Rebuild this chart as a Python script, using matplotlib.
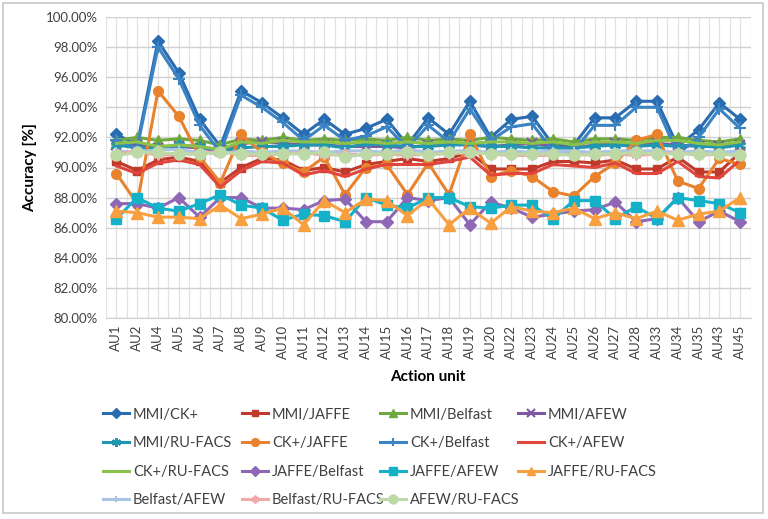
import matplotlib
matplotlib.use("Agg")
import matplotlib.pyplot as plt
from matplotlib.ticker import FuncFormatter, MultipleLocator
from matplotlib.patches import Rectangle

plt.rcParams['font.family'] = ['Lato', 'DejaVu Sans']

categories = ["AU1", "AU2", "AU4", "AU5", "AU6", "AU7", "AU8", "AU9", "AU10", "AU11",
              "AU12", "AU13", "AU14", "AU15", "AU16", "AU17", "AU18", "AU19", "AU20", "AU22",
              "AU23", "AU24", "AU25", "AU26", "AU27", "AU28", "AU33", "AU34", "AU35", "AU43", "AU45"]

mmi_ck = [92.2, 91.5, 98.4, 96.3, 93.2, 91.4, 95.1, 94.3, 93.3, 92.2, 93.2, 92.2, 92.6, 93.2, 91.5, 93.3,
          92.2, 94.4, 92.0, 93.2, 93.4, 91.5, 91.5, 93.3, 93.3, 94.4, 94.4, 91.4, 92.5, 94.3, 93.2]
mmi_jaffe = [90.4, 89.8, 90.5, 90.7, 90.4, 89.0, 90.0, 90.6, 90.5, 89.8, 90.0, 89.7, 90.2, 90.4, 90.6, 90.4,
             90.6, 91.0, 89.9, 89.9, 89.9, 90.4, 90.4, 90.3, 90.5, 89.9, 89.9, 90.7, 89.7, 89.7, 91.0]
mmi_belfast = [91.8, 92.0, 91.8, 91.9, 91.8, 91.5, 91.9, 91.8, 92.0, 91.8, 91.9, 91.8, 91.9, 91.8, 92.0, 91.8,
               91.9, 91.8, 92.0, 91.9, 91.8, 91.9, 91.7, 91.9, 91.9, 91.8, 92.0, 92.0, 91.8, 91.7, 91.9]
mmi_afew = [91.5, 91.5, 91.3, 91.4, 91.3, 91.1, 91.6, 91.7, 91.6, 91.5, 91.5, 91.4, 91.4, 91.4, 91.3, 91.5,
            91.6, 91.5, 91.4, 91.5, 91.6, 91.4, 91.3, 91.5, 91.6, 91.5, 91.6, 91.5, 91.4, 91.4, 91.5]
mmi_rufacs = [91.5, 91.3, 91.3, 91.5, 91.4, 91.1, 91.3, 91.4, 91.4, 91.5, 91.5, 91.3, 91.6, 91.5, 91.4, 91.4,
              91.5, 91.5, 91.4, 91.4, 91.3, 91.3, 91.3, 91.4, 91.5, 91.4, 91.5, 91.4, 91.5, 91.3, 91.5]
ck_jaffe = [89.6, 87.6, 95.1, 93.4, 90.7, 89.0, 92.2, 91.0, 90.3, 89.7, 90.7, 88.2, 90.0, 90.2, 88.2, 90.3,
            88.2, 92.2, 89.4, 89.8, 89.4, 88.4, 88.1, 89.4, 90.3, 91.8, 92.2, 89.1, 88.6, 90.6, 90.2]
ck_belfast = [91.8, 91.3, 98.0, 95.9, 92.8, 91.0, 94.8, 94.0, 93.0, 91.8, 92.8, 91.8, 92.1, 92.7, 91.3, 92.8,
              91.7, 93.9, 91.8, 92.7, 92.9, 91.1, 91.1, 92.8, 92.8, 94.0, 94.0, 90.9, 92.0, 93.9, 92.6]
ck_afew = [90.1, 89.6, 90.3, 90.5, 90.2, 88.7, 89.8, 90.4, 90.3, 89.5, 89.8, 89.4, 89.9, 90.2, 90.2, 90.2,
           90.4, 90.7, 89.5, 89.6, 89.6, 90.2, 90.1, 90.0, 90.3, 89.6, 89.6, 90.4, 89.4, 89.3, 90.5]
ck_rufacs = [91.6, 91.7, 91.4, 91.5, 91.4, 91.2, 91.7, 91.6, 91.8, 91.7, 91.7, 91.6, 91.7, 91.6, 91.7, 91.6,
             91.7, 91.6, 91.7, 91.7, 91.6, 91.7, 91.5, 91.7, 91.7, 91.6, 91.8, 91.8, 91.6, 91.5, 91.7]
jaffe_belfast = [87.6, 87.6, 87.3, 88.0, 86.7, 88.0, 88.0, 87.3, 87.3, 87.2, 87.8, 87.9, 86.4, 86.4, 88.0, 87.8,
                 88.0, 86.2, 87.7, 87.3, 86.7, 86.9, 87.1, 87.2, 87.7, 86.4, 86.6, 88.0, 86.4, 87.1, 86.4]
jaffe_afew = [86.6, 88.0, 87.3, 87.1, 87.6, 88.2, 87.5, 87.3, 86.5, 86.9, 86.8, 86.4, 88.0, 87.5, 87.3, 88.0,
              88.0, 87.4, 87.3, 87.5, 87.5, 86.6, 87.8, 87.8, 86.6, 87.4, 86.6, 88.0, 87.8, 87.6, 87.0]
jaffe_rufacs = [87.1, 87.0, 86.7, 86.7, 86.6, 87.5, 86.6, 86.9, 87.3, 86.2, 87.8, 87.0, 87.9, 87.8, 86.8, 87.9,
                86.2, 87.3, 86.3, 87.4, 87.1, 87.0, 87.3, 86.6, 87.0, 86.6, 87.1, 86.5, 86.9, 87.1, 88.0]
belfast_afew = [91.1, 91.0, 91.2, 91.2, 91.0, 90.9, 91.1, 91.0, 91.1, 91.1, 91.0, 91.1, 91.1, 91.0, 91.2, 91.0,
                91.1, 91.1, 91.0, 91.1, 91.0, 91.1, 91.1, 91.0, 91.1, 91.1, 91.1, 91.0, 91.1, 91.0, 91.1]
belfast_rufacs = [90.9, 91.1, 90.8, 90.9, 90.9, 91.1, 90.8, 90.8, 90.9, 91.0, 90.8, 90.9, 90.8, 90.9, 90.8, 90.9,
                  90.9, 91.0, 90.9, 90.8, 90.8, 90.8, 90.9, 90.8, 90.9, 90.8, 90.9, 91.0, 90.8, 90.9, 90.8]
afew_rufacs = [90.8, 91.0, 91.0, 90.9, 90.9, 91.0, 90.9, 90.9, 90.9, 90.9, 91.0, 90.7, 90.9, 90.9, 91.0, 90.8,
               91.0, 91.0, 90.9, 90.9, 90.9, 90.9, 90.8, 90.9, 90.9, 91.0, 90.9, 90.9, 90.9, 90.9, 90.8]

series = [
    ("MMI/CK+", mmi_ck, "#2a6cb0", "D", 6),
    ("MMI/JAFFE", mmi_jaffe, "#c0392b", "s", 6),
    ("MMI/Belfast", mmi_belfast, "#6fa83e", "^", 7),
    ("MMI/AFEW", mmi_afew, "#7e57a1", "x", 7),
    ("MMI/RU-FACS", mmi_rufacs, "#2196b0", (6, 2, 0), 8),
    ("CK+/JAFFE", ck_jaffe, "#e8822d", "o", 7),
    ("CK+/Belfast", ck_belfast, "#3b84c4", "+", 8),
    ("CK+/AFEW", ck_afew, "#e0463c", None, 0),
    ("CK+/RU-FACS", ck_rufacs, "#8dc24a", None, 0),
    ("JAFFE/Belfast", jaffe_belfast, "#8e67b5", "D", 6),
    ("JAFFE/AFEW", jaffe_afew, "#14b1c9", "s", 7),
    ("JAFFE/RU-FACS", jaffe_rufacs, "#f8a040", "^", 8),
    ("Belfast/AFEW", belfast_afew, "#a9c4e4", "+", 6),
    ("Belfast/RU-FACS", belfast_rufacs, "#eeaaa8", (6, 2, 0), 7),
    ("AFEW/RU-FACS", afew_rufacs, "#bdd9a6", "o", 8),
]

fig = plt.figure(figsize=(7.68, 5.19), dpi=100)
fig.patch.set_facecolor("white")
fig.patches.append(Rectangle((3 / 768, 6 / 519), 760 / 768, 510 / 519, transform=fig.transFigure,
                             fill=False, edgecolor="#c8c8c8", linewidth=1.2))

ax = fig.add_axes([106 / 768, 1 - 318 / 519, (750.5 - 106) / 768, (318 - 17) / 519])
x = list(range(len(categories)))

handles = []
for name, vals, color, marker, ms in series:
    kw = dict(color=color, linewidth=2.2, label=name, zorder=3)
    if marker is not None:
        kw.update(marker=marker, markersize=ms, markeredgecolor=color, markerfacecolor=color,
                  markeredgewidth=1.5 if marker in ("x", "+") or isinstance(marker, tuple) else 1)
    h, = ax.plot(x, vals, **kw)
    handles.append(h)

ax.set_xlim(-0.5, len(categories) - 0.5)
ax.set_ylim(80, 100)
ax.yaxis.set_major_locator(MultipleLocator(2))
ax.yaxis.set_major_formatter(FuncFormatter(lambda v, p: f"{v:.2f}%"))
ax.set_xticks(x)
ax.set_xticklabels(categories, rotation=90, fontsize=9.5, color="#404040")
ax.tick_params(axis="y", labelsize=9.5, labelcolor="#404040", length=0, pad=6)
ax.tick_params(axis="x", length=0, pad=5)

# gridlines
for v in range(80, 101, 2):
    ax.axhline(v, color="#d0d0d0", linewidth=1.0, zorder=1)
for i in range(2 * len(categories) + 1):
    ax.axvline(-0.5 + i * 0.5, color="#e2e2e2", linewidth=0.9, zorder=0.5)

for s in ax.spines.values():
    s.set_visible(False)
ax.spines["bottom"].set_visible(True)
ax.spines["bottom"].set_color("#d0d0d0")

ax.set_ylabel("Accuracy [%]", fontsize=11, fontweight="bold", color="#000000", labelpad=6)
ax.set_xlabel("Action unit", fontsize=11, fontweight="bold", color="#000000", labelpad=8)

# legend: four fixed columns, row-major order as in the reference
col_x = [103, 242, 380, 518]
for c in range(4):
    idx = list(range(c, len(series), 4))
    leg = fig.legend([handles[i] for i in idx], [series[i][0] for i in idx],
                     ncol=1, loc="upper left", bbox_to_anchor=(col_x[c] / 768, 1 - 407.5 / 519),
                     frameon=False, fontsize=10.5, handlelength=1.75, handletextpad=0.3,
                     labelspacing=1.0, borderaxespad=0, borderpad=0, markerscale=0.8)
    for t in leg.get_texts():
        t.set_color("#404040")

fig.savefig("out.png", dpi=100, facecolor="white")
